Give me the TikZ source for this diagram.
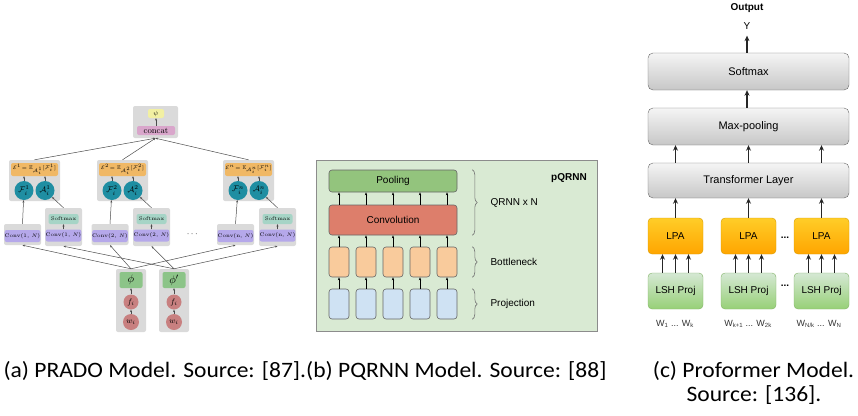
\documentclass[tikz,border=0pt]{standalone}
\usepackage{fontspec}
\usepackage{amsmath,amssymb}
\usetikzlibrary{arrows.meta,decorations.pathreplacing,shapes.geometric}
\newfontfamily\arialf{Liberation Sans}
\newfontfamily\capf{Carlito}
\definecolor{agray}{HTML}{DADADA}
\definecolor{aorange}{HTML}{F0B865}
\definecolor{ateal}{HTML}{1F8EA2}
\definecolor{apurple}{HTML}{B5A8EA}
\definecolor{asoft}{HTML}{A6D4C6}
\definecolor{agreen}{HTML}{8CC488}
\definecolor{ared}{HTML}{C88080}
\definecolor{ayellow}{HTML}{F2F0A2}
\definecolor{apink}{HTML}{D9A6CB}
\definecolor{bframec}{HTML}{D9EAD3}
\definecolor{bpoolc}{HTML}{93C47D}
\definecolor{bconvc}{HTML}{DD7E6B}
\definecolor{bneckc}{HTML}{F9CB9C}
\definecolor{bprojc}{HTML}{CFE2F3}
\definecolor{lpatop}{HTML}{FFCD28}
\definecolor{lpabot}{HTML}{FFA500}
\definecolor{lpadraw}{HTML}{D79B00}
\definecolor{lshtop}{HTML}{D5E8D4}
\definecolor{lshbot}{HTML}{97D077}
\definecolor{lshdraw}{HTML}{82B366}
\begin{document}
\begin{tikzpicture}[x=1pt,y=-1pt,
  agrp/.style={fill=agray, rounded corners=2pt, inner sep=0pt, draw=none},
  abox/.style={rounded corners=2pt, inner sep=0pt},
  acirc/.style={circle, inner sep=0pt, minimum size=19pt, font=\fontsize{8}{8}\selectfont},
  aarr/.style={-{Stealth[length=2.4pt,width=2pt]}, line width=0.5pt, draw=black!70},
  tinyf/.style={font=\fontsize{5.2}{5.2}\selectfont},
  bbox/.style={draw=black!60, rounded corners=3pt, inner sep=0pt, line width=0.6pt},
  barr/.style={-{Stealth[length=3pt,width=2.4pt]}, line width=0.5pt, draw=black},
  bbrace/.style={decorate, decoration={brace, amplitude=5pt}, draw=black!55, line width=0.6pt},
  blab/.style={anchor=west, font=\arialf\fontsize{10}{10}\selectfont},
  cbox/.style={rounded corners=5pt, draw=black!60, top color=white!96!black, bottom color=black!22, minimum width=201pt, minimum height=37pt, inner sep=0pt, font=\arialf\fontsize{11}{11}\selectfont},
  clpa/.style={rounded corners=4pt, draw=lpadraw, top color=lpatop, bottom color=lpabot, minimum width=55pt, minimum height=36pt, inner sep=0pt, font=\arialf\fontsize{10}{10}\selectfont},
  clsh/.style={rounded corners=4pt, draw=lshdraw, top color=lshtop, bottom color=lshbot, minimum width=55pt, minimum height=36pt, inner sep=0pt, font=\arialf\fontsize{10}{10}\selectfont},
  carr/.style={-{Stealth[length=5.5pt,width=5pt]}, line width=1.2pt, draw=black!85},
  wlab/.style={font=\arialf\fontsize{9}{9}\selectfont, text=black!80},
  capt/.style={font=\capf\fontsize{22}{22}\selectfont, inner sep=0pt, anchor=base}
]
\useasboundingbox (0,0) rectangle (858,415);

% ---------------- Panel (a) ----------------
\node[agrp, minimum width=45pt, minimum height=32pt] (topg) at (155.5,122) {};
\node[abox, fill=ayellow, minimum width=16pt, minimum height=9pt, font=\fontsize{6.5}{6.5}\selectfont] (psi) at (156,113.5) {$\psi$};
\node[abox, fill=apink, minimum width=38pt, minimum height=9pt, font=\fontsize{8.5}{8.5}\selectfont] (concat) at (156,130.5) {concat};
\draw[aarr] (concat) -- (psi);

\foreach \k/\cx in {1/34.5, 2/122.5, n/248.5}{
  \node[agrp, minimum width=51pt, minimum height=41pt] (g\k) at (\cx,180.5) {};
  \node[abox, fill=aorange, minimum width=47pt, minimum height=13pt, font=\fontsize{5.4}{5.4}\selectfont] (E\k) at (\cx,169.5)
    {$\mathcal{E}^{\k}\!=\mathbb{E}_{\mathcal{A}_i^{\k}}[\mathcal{F}_i^{\k}]$};
  \node[acirc, fill=ateal] (F\k) at ({\cx-10.5},190.5) {$\mathcal{F}_i^{\k}$};
  \node[acirc, fill=ateal] (A\k) at ({\cx+10.5},190.5) {$\mathcal{A}_i^{\k}$};
  \draw[aarr] (F\k) -- (F\k |- E\k.south);
  \draw[aarr] (A\k) -- (A\k |- E\k.south);
  \draw[aarr] (g\k.north) -- (topg.south);
}

\foreach \k/\cx/\lab in {1/22.5/1, 2/110/2, n/235.5/n}{
  \node[agrp, minimum width=37pt, minimum height=21pt] (cg\k) at (\cx,234.5) {};
  \node[abox, fill=apurple, minimum width=31pt, minimum height=12pt, tinyf] (c\k) at (\cx,236) {Conv(\lab, $N$)};
  \draw[aarr] (cg\k.north) -- (F\k);
}
\foreach \k/\cx/\lab in {1/63.5/1, 2/151.5/2, n/277.5/n}{
  \node[agrp, minimum width=37pt, minimum height=38pt] (sg\k) at (\cx,227) {};
  \node[abox, fill=asoft, minimum width=30pt, minimum height=10pt, tinyf] (sm\k) at (\cx,219) {Softmax};
  \node[abox, fill=apurple, minimum width=30pt, minimum height=12pt, tinyf] (sc\k) at (\cx,235.5) {Conv(\lab, $N$)};
  \draw[aarr] (sc\k) -- (sm\k);
  \draw[aarr] (sg\k.north) -- (A\k);
}
\node[font=\fontsize{9}{9}\selectfont] (adots) at (193,234) {$\cdots$};

\foreach \k/\cx/\lab in {p/131/\phi, q/174/\phi'}{
  \node[agrp, minimum width=30pt, minimum height=63pt] (pg\k) at (\cx,300.5) {};
  \node[abox, fill=agreen, minimum width=23pt, minimum height=16pt, font=\fontsize{11}{11}\selectfont] (ph\k) at (\cx,280) {$\lab$};
  \node[acirc, fill=ared, minimum size=15pt] (f\k) at (\cx,302) {$f_i$};
  \node[acirc, fill=ared, minimum size=16pt] (w\k) at (\cx,322) {$w_i$};
  \draw[aarr] (w\k) -- (f\k);
  \draw[aarr] (f\k) -- (ph\k);
}
\foreach \t in {cg1,cg2,cgn} \draw[aarr] (pgp.north) -- (\t.south);
\foreach \t in {sg1,sg2,sgn} \draw[aarr] (pgq.north) -- (\t.south);

% ---------------- Panel (b) ----------------
\node[draw=black!45, fill=bframec, minimum width=281pt, minimum height=171pt, inner sep=0pt, line width=0.7pt] (bframe) at (456.5,245.5) {};
\node[font=\arialf\bfseries\fontsize{10}{10}\selectfont] (pq) at (569,178) {pQRNN};
\node[bbox, fill=bpoolc, minimum width=128pt, minimum height=22pt, font=\arialf\fontsize{10}{10}\selectfont] (bpool) at (393,181) {Pooling};
\node[bbox, fill=bconvc, minimum width=128pt, minimum height=30pt, font=\arialf\fontsize{10}{10}\selectfont] (bconv) at (393,220) {Convolution};
\foreach \i/\x in {1/339,2/366,3/393,4/420,5/447}{
  \node[bbox, fill=bneckc, minimum width=20pt, minimum height=30pt] (bn\i) at (\x,262) {};
  \node[bbox, fill=bprojc, minimum width=20pt, minimum height=30pt] (pr\i) at (\x,304) {};
  \draw[barr] (pr\i) -- (bn\i);
  \draw[barr] (bn\i) -- (bn\i |- bconv.south);
  \draw[barr] (bn\i |- bconv.north) -- (bn\i |- bpool.south);
}
\draw[bbrace] ([xshift=15pt]bpool.north east) -- ([xshift=15pt]bconv.south east);
\draw[bbrace] ([xshift=15pt]bn5.north east) -- ([xshift=15pt]bn5.south east);
\draw[bbrace] ([xshift=15pt]pr5.north east) -- ([xshift=15pt]pr5.south east);
\node[blab] (lq) at (487,203) {QRNN x N};
\node[blab] (lb) at (487,262) {Bottleneck};
\node[blab] (lp) at (487,304) {Projection};

% ---------------- Panel (c) ----------------
\node[font=\arialf\bfseries\fontsize{10}{10}\selectfont] (out) at (747,8) {Output};
\node[font=\arialf\fontsize{10}{10}\selectfont, inner sep=0pt] (yy) at (747,26) {Y};
\node[cbox] (smx) at (748.5,71.5) {Softmax};
\node[cbox] (mxp) at (748.5,126.5) {Max-pooling};
\node[cbox, minimum height=35pt] (trf) at (748.5,180.5) {Transformer Layer};
\draw[carr] (smx.north -| yy) -- ([yshift=-6pt]yy.south);
\draw[carr] (mxp.north -| yy) -- (smx.south -| yy);
\foreach \i/\x in {1/675.5,2/748.5,3/821.5}{
  \node[clpa] (lpa\i) at (\x,236) {LPA};
  \node[clsh] (lsh\i) at (\x,291) {LSH Proj};
  \draw[carr] (lpa\i.north) -- (lpa\i |- trf.south);
  \draw[carr] (lpa\i |- trf.north) -- (lpa\i |- mxp.south);
  \foreach \d in {-13,0,13}
    \draw[carr] ([xshift=\d pt]lsh\i.north) -- ([xshift=\d pt]lpa\i.south);
}
\node[font=\arialf\bfseries\fontsize{10}{10}\selectfont] (dd1) at (785,238) {...};
\node[font=\arialf\bfseries\fontsize{10}{10}\selectfont] (dd2) at (785,286) {...};
\node[wlab] (wl1) at (675,324) {W\textsubscript{1} ... W\textsubscript{k}};
\node[wlab] (wl2) at (748,324) {W\textsubscript{k+1} ... W\textsubscript{2k}};
\node[wlab] (wl3) at (819,324) {W\textsubscript{N/k} ... W\textsubscript{N}};

% ---------------- Captions ----------------
\node[capt] (capab) at (305,377) {\scalebox{1.07}[1]{(a) PRADO Model. Source: [87].(b) PQRNN Model. Source: [88]}};
\node[capt] (capc1) at (753.5,377) {\scalebox{1.07}[1]{(c) Proformer Model.}};
\node[capt] (capc2) at (754,401) {\scalebox{1.07}[1]{Source: [136].}};
\end{tikzpicture}
\end{document}
